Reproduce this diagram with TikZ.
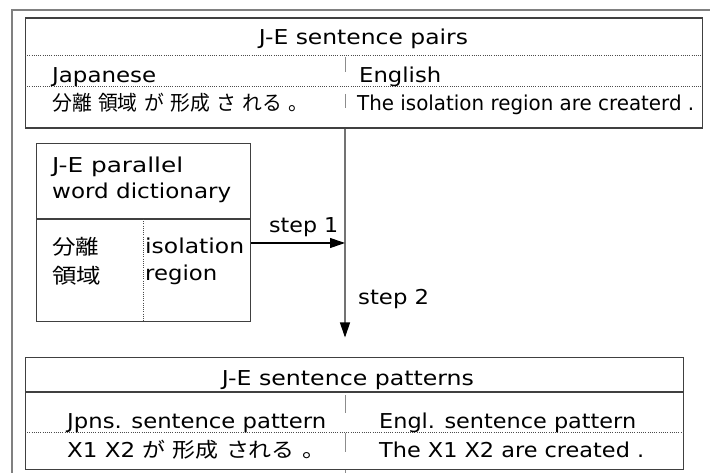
\documentclass[tikz,border=0pt]{standalone}
\usepackage{graphicx}
\usepackage{fontspec}
\setmainfont{DejaVu Sans}
\newfontfamily\jpfont{Noto Sans CJK JP}
\newcommand\J[1]{{\jpfont #1}}
% set a text to a given width, keeping its height
\newcommand\fitw[2]{\resizebox{#1pt}{\height}{#2}}
\usetikzlibrary{arrows.meta}

\begin{document}
\begin{tikzpicture}[x=1pt,y=-1pt,
  frame/.style={draw=black!50, line width=1.4pt},
  box/.style={draw=black!75, line width=1.1pt, rectangle, inner sep=0pt, anchor=north west},
  boxline/.style={draw=black!75, line width=1.1pt},
  dotline/.style={draw=black!70, line width=0.8pt, dash pattern=on 1pt off 1.2pt},
  colrule/.style={draw=black!45, line width=1pt},
  txt/.style={inner sep=0pt, anchor=base west, font=\fontsize{20.5}{24}\selectfont},
  ctxt/.style={inner sep=0pt, anchor=base, font=\fontsize{20.5}{24}\selectfont},
  flow/.style={draw=black!55, line width=1.1pt, -{Triangle[length=15pt,width=10pt,color=black]}},
  flowdark/.style={draw=black, line width=1.1pt, -{Triangle[length=15pt,width=10pt,color=black]}},
]
\useasboundingbox (0,0) rectangle (710,473);
\fill[white] (0,0) rectangle (710,473);

% outer frame (runs off the page on the right and at the bottom)
\draw[frame] (12,473) -- (12,10) -- (710,10);

% ---------- J-E sentence pairs ----------
\node[box, minimum width=677pt, minimum height=110pt] (pairs) at (25,17.5) {};
\draw[dotline] (25,55) -- (702,55);
\draw[dotline] (25,86) -- (702,86);
\draw[colrule] (345,57) -- (345,72);
\draw[colrule] (345,94) -- (345,108);
\node[ctxt] (pairsTitle) at (363.5,45) {\fitw{209}{J-E sentence pairs}};
\node[txt] (jaHead) at (52,83) {\fitw{104}{Japanese}};
\node[txt] (enHead) at (359,83) {\fitw{82}{English}};
\node[txt] (jaSent) at (52,111) {\fitw{256}{\J{分離} \J{領域} \J{が} \J{形成} \J{さ} \J{れる} \J{。}}};
\node[txt] (enSent) at (357,111) {\fitw{337}{The isolation region are createrd .}};

% ---------- word dictionary ----------
\node[box, minimum width=214pt, minimum height=178pt] (dict) at (36,143) {};
\draw[boxline] (36,219) -- (250,219);
\draw[dotline] (143,219) -- (143,321);
\node[txt] (dictT1) at (52,173) {\fitw{131}{J-E parallel}};
\node[txt] (dictT2) at (52,199) {\fitw{179}{word dictionary}};
\node[txt] (dictJ1) at (52,255) {\fitw{47}{\J{分離}}};
\node[txt] (dictJ2) at (52,284) {\fitw{49}{\J{領域}}};
\node[txt] (dictE1) at (145,254) {\fitw{99}{isolation}};
\node[txt] (dictE2) at (145,281) {\fitw{72}{region}};

% ---------- flow ----------
\coordinate (colx) at (345,0);
\coordinate (join) at (345,243);
\coordinate (tip) at (345,337.5);
\draw[flow] (colx |- pairs.south) -- (tip);
\draw[flowdark] (dict.east |- join) -- (join);
\node[txt] (step1) at (269,233) {\fitw{69}{step 1}};
\node[txt] (step2) at (358,305) {\fitw{71}{step 2}};

% ---------- J-E sentence patterns ----------
\node[box, minimum width=658pt, minimum height=112pt] (pat) at (25,357) {};
\draw[boxline] (25,392) -- (683,392);
\draw[dotline] (25,432) -- (683,432);
\draw[colrule] (345,395) -- (345,413);
\draw[colrule] (345,433) -- (345,452);
\draw[colrule] (colx |- pat.south) -- (345,473);
\node[ctxt] (patTitle) at (348,385) {\fitw{252}{J-E sentence patterns}};
\node[txt] (jpHead) at (67,428) {\fitw{259}{Jpns. sentence pattern}};
\node[txt] (egHead) at (379,428) {\fitw{257}{Engl. sentence pattern}};
\node[txt] (jpPat) at (67,457) {\fitw{258}{X1 X2 \J{が} \J{形成} \J{される} \J{。}}};
\node[txt] (egPat) at (379,457) {\fitw{265}{The X1 X2 are created .}};
\end{tikzpicture}
\end{document}
